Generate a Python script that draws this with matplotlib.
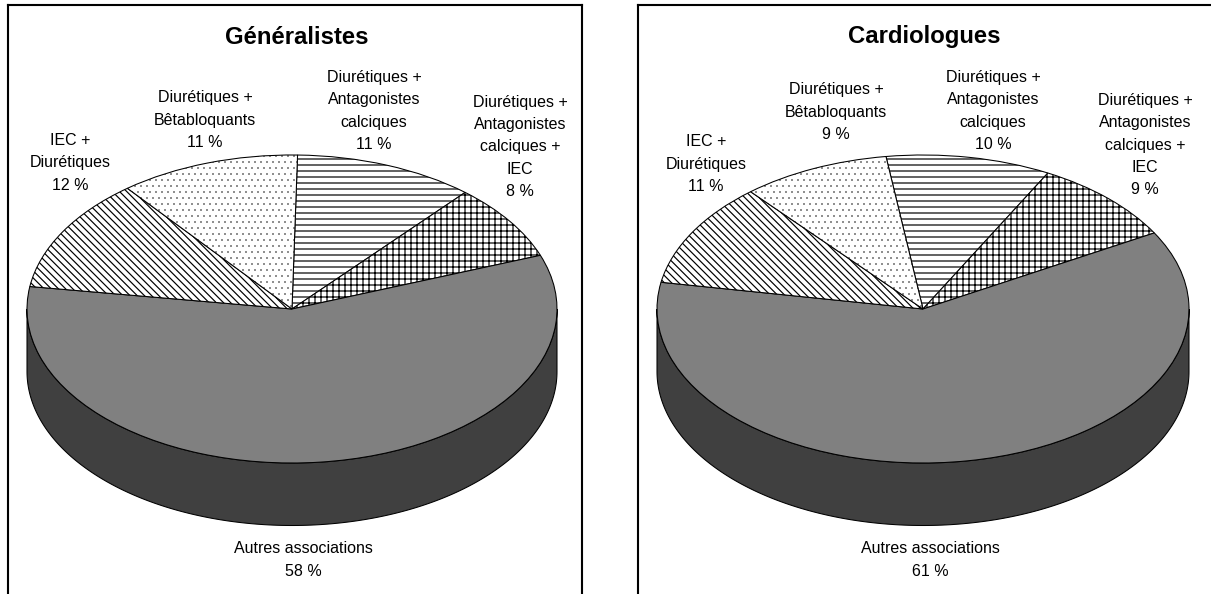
#!/usr/bin/env python
# -*- coding: utf8 -*-

import numpy as np
import matplotlib
matplotlib.use('Agg')
import matplotlib.pyplot as plt

W, H = 1211, 594
DPI = 108

plt.rcParams['font.family'] = ['Liberation Sans', 'DejaVu Sans']
plt.rcParams['hatch.linewidth'] = 0.8

categories = ['Diurétiques +\nAntagonistes\ncalciques',
              'Diurétiques +\nAntagonistes\ncalciques +\nIEC',
              'Autres associations',
              'IEC +\nDiurétiques',
              'Diurétiques +\nBêtabloquants']
generalistes = [11, 8, 58, 12, 11]
cardiologues = [10, 9, 61, 11, 9]

hatches = ['---', '+++', None, '\\\\\\\\\\', '...']
colors = ['white', 'white', '#808080', 'white', 'white']
side_color = '#404040'


def to_fig(x, y):
    return x / W, 1 - y / H


def draw_panel(fig, title, values, start, box, center, title_pos, label_pos, show_right):
    left, right, top, bottom = box
    cx, cy, rx, ry, depth = center
    ax = fig.add_axes([left / W, 1 - bottom / H, (right - left) / W, (bottom - top) / H])

    # la tranche du camembert, dessinee avant le dessus
    t = np.linspace(np.pi, 2 * np.pi, 200)
    d = depth / ry
    ax.fill(np.r_[np.cos(t), np.cos(t)[::-1]],
            np.r_[np.sin(t) - d, np.sin(t)[::-1]],
            facecolor=side_color, edgecolor='black', linewidth=0.7)

    wedges = ax.pie(values, startangle=90 - start, counterclock=False, colors=colors, hatch=hatches,
                    wedgeprops={'edgecolor': 'black', 'linewidth': 0.7})[0]
    # points fins pour les bêtabloquants
    wedges[4].set_hatch_linewidth(0.15)

    # ecrase le cercle en ellipse
    ax.set_aspect('auto')
    ax.set_xlim((left - cx) / rx, (right - cx) / rx)
    ax.set_ylim((cy - bottom) / ry, (cy - top) / ry)
    ax.set_frame_on(True)
    ax.set_xticks([])
    ax.set_yticks([])
    ax.spines['bottom'].set_visible(False)
    ax.spines['right'].set_visible(show_right)
    for s in ax.spines.values():
        s.set_linewidth(1.4)

    fx, fy = to_fig(*title_pos)
    fig.text(fx, fy, title, ha='center', va='center', fontsize=15.9, fontweight='bold')
    for name, v, pos in zip(categories, values, label_pos):
        fx, fy = to_fig(*pos)
        fig.text(fx, fy, '%s\n%d %%' % (name, v), ha='center', va='center',
                 fontsize=10.7, linespacing=1.62, color='black')


fig = plt.figure(figsize=(W / DPI, H / DPI), dpi=DPI)

draw_panel(fig, 'Généralistes', generalistes, 1.2,
           (8, 582, 5, 600), (292, 309, 265, 154, 62.5), (297, 38),
           [(374, 111), (520, 147), (303, 560), (70, 163), (205, 120)], True)
draw_panel(fig, 'Cardiologues', cardiologues, -8,
           (638, 1215, 5, 600), (923, 309, 266, 154, 62.5), (924, 37),
           [(993, 111), (1145, 145), (930, 560), (706, 164), (836, 112)], False)

fig.savefig('out.png', dpi=DPI)
